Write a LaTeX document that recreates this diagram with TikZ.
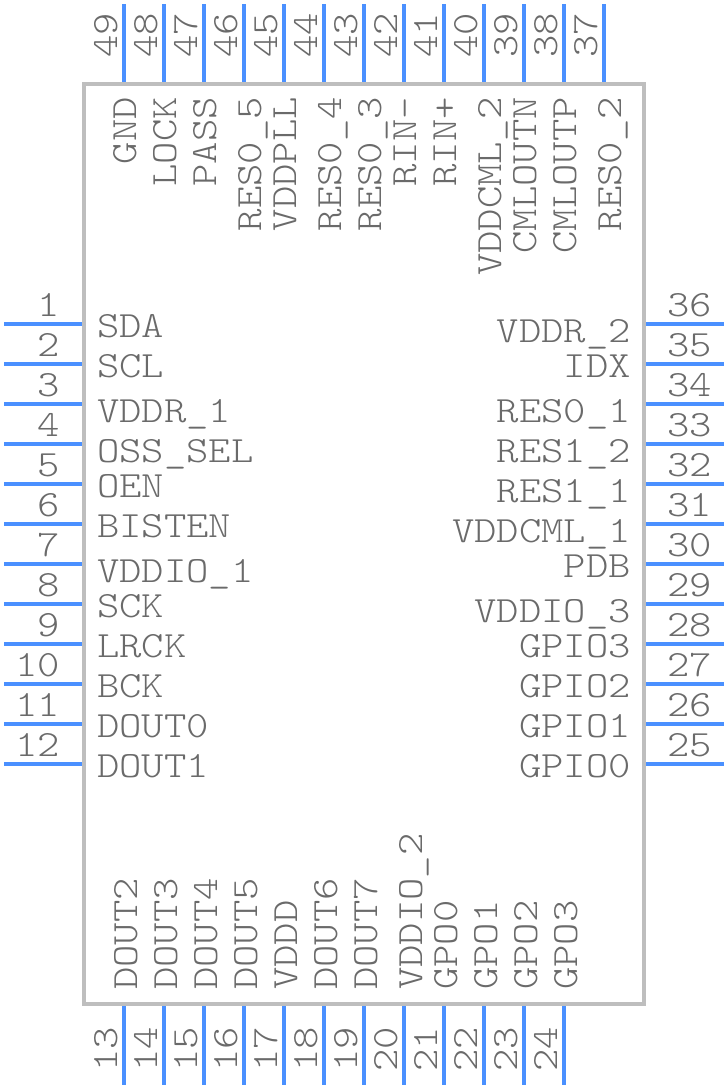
\documentclass[tikz,border=0pt]{standalone}
\usepackage{fontspec}
\setmonofont{Latin Modern Mono Light}[FakeStretch=1.15]
\usepackage{xcolor}
\definecolor{pinblue}{HTML}{4A90FF}
\definecolor{bodygray}{HTML}{BEBEBE}
\definecolor{textgray}{HTML}{6A6A6A}
\tikzstyle{pin} = [pinblue,line width=4pt]
\tikzstyle{txt} = [textgray,inner sep=0pt,font=\fontsize{37}{37}\ttfamily]

\begin{document}
\begin{tikzpicture}[x=1pt,y=-1pt]
	\useasboundingbox (0,0) rectangle (728,1088);
	
	% Body:
	\draw[bodygray,line width=4pt] (84,84) rectangle (644,1004);
	
	% Left side:
	\foreach \n/\b/\name in {1/337/SDA,2/377/SCL,3/422/VDDR\_1,4/462/OSS\_SEL,5/497/OEN,6/537/BISTEN,7/582/VDDIO\_1,8/617/SCK,9/657/LRCK,10/697/BCK,11/737/DOUT0,12/777/DOUT1}
	{
		\draw[pin] (4,284+40*\n) -- (82,284+40*\n);
		\node[txt,anchor=base east] (num\n) at (60,276+40*\n) {\n};
		\node[txt,anchor=base west] (lab\n) at (97,\b) {\name};
	}
	
	% Right side:
	\foreach \n/\b/\name in {36/342/VDDR\_2,35/377/IDX,34/422/RES0\_1,33/462/RES1\_2,32/502/RES1\_1,31/542/VDDCML\_1,30/577/PDB,29/622/VDDIO\_3,28/657/GPIO3,27/697/GPIO2,26/737/GPIO1,25/777/GPIO0}
	{
		\draw[pin] (646,324+40*36-40*\n) -- (724,324+40*36-40*\n);
		\node[txt,anchor=base west] (num\n) at (667,316+40*36-40*\n) {\n};
		\node[txt,anchor=base east] (lab\n) at (631,\b) {\name};
	}
	
	% Top side:
	\foreach \n/\b/\name in {49/136/GND,48/176/LOCK,47/216/PASS,46/261/RES0\_5,45/296/VDDPLL,44/341/RES0\_4,43/381/RES0\_3,42/416/RIN-,41/456/RIN+,40/501/VDDCML\_2,39/536/CMLOUTN,38/576/CMLOUTP,37/621/RES0\_2}
	{
		\draw[pin] (124+40*49-40*\n,4) -- (124+40*49-40*\n,82);
		\node[txt,rotate=90,anchor=base west] (num\n) at (117+40*49-40*\n,58) {\n};
		\node[txt,rotate=90,anchor=base east] (lab\n) at (\b,97) {\name};
	}
	
	% Bottom side:
	\foreach \n/\b/\name in {13/137/DOUT2,14/177/DOUT3,15/217/DOUT4,16/257/DOUT5,17/297/VDDD,18/337/DOUT6,19/377/DOUT7,20/422/VDDIO\_2,21/457/GPO0,22/497/GPO1,23/537/GPO2,24/577/GPO3}
	{
		\draw[pin] (124+40*\n-520,1006) -- (124+40*\n-520,1085);
		\node[txt,rotate=90,anchor=base west] (num\n) at (117+40*\n-520,1072) {\n};
		\node[txt,rotate=90,anchor=base west] (lab\n) at (\b,990) {\name};
	}
\end{tikzpicture}
\end{document}
